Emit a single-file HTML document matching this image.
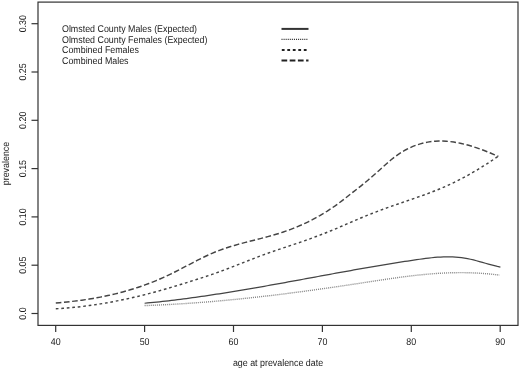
<!DOCTYPE html>
<html><head><meta charset="utf-8"><style>
html,body{margin:0;padding:0;background:#fff;}
body{width:520px;height:369px;overflow:hidden;}
svg{display:block;filter:blur(0.35px);font-family:"Liberation Sans",sans-serif;font-size:9.1px;fill:#222;text-rendering:geometricPrecision;}
</style></head><body>
<svg width="520" height="369" viewBox="0 0 520 369">
<g stroke="#333" stroke-width="1.2" fill="none">
<rect x="38" y="2.1" width="480" height="323.3" />
<line x1="55.7" y1="325.5" x2="55.7" y2="332" /><line x1="144.6" y1="325.5" x2="144.6" y2="332" /><line x1="233.5" y1="325.5" x2="233.5" y2="332" /><line x1="322.4" y1="325.5" x2="322.4" y2="332" /><line x1="411.3" y1="325.5" x2="411.3" y2="332" /><line x1="500.2" y1="325.5" x2="500.2" y2="332" />
<line x1="31.5" y1="313.5" x2="38" y2="313.5" /><line x1="31.5" y1="265.2" x2="38" y2="265.2" /><line x1="31.5" y1="216.9" x2="38" y2="216.9" /><line x1="31.5" y1="168.6" x2="38" y2="168.6" /><line x1="31.5" y1="120.3" x2="38" y2="120.3" /><line x1="31.5" y1="72.0" x2="38" y2="72.0" /><line x1="31.5" y1="23.7" x2="38" y2="23.7" />
</g>
<g>
<text transform="translate(55.70,344.50) scale(0.975,1.08)" text-anchor="middle">40</text><text transform="translate(144.60,344.50) scale(0.975,1.08)" text-anchor="middle">50</text><text transform="translate(233.50,344.50) scale(0.975,1.08)" text-anchor="middle">60</text><text transform="translate(322.40,344.50) scale(0.975,1.08)" text-anchor="middle">70</text><text transform="translate(411.30,344.50) scale(0.975,1.08)" text-anchor="middle">80</text><text transform="translate(500.20,344.50) scale(0.975,1.08)" text-anchor="middle">90</text>
<text transform="translate(25.50,313.50) rotate(-90) scale(0.975,1.08)" text-anchor="middle">0.0</text><text transform="translate(25.50,265.20) rotate(-90) scale(0.975,1.08)" text-anchor="middle">0.05</text><text transform="translate(25.50,216.90) rotate(-90) scale(0.975,1.08)" text-anchor="middle">0.10</text><text transform="translate(25.50,168.60) rotate(-90) scale(0.975,1.08)" text-anchor="middle">0.15</text><text transform="translate(25.50,120.30) rotate(-90) scale(0.975,1.08)" text-anchor="middle">0.20</text><text transform="translate(25.50,72.00) rotate(-90) scale(0.975,1.08)" text-anchor="middle">0.25</text><text transform="translate(25.50,23.70) rotate(-90) scale(0.975,1.08)" text-anchor="middle">0.30</text>
<text transform="translate(278.00,365.50) scale(0.975,1.08)" text-anchor="middle">age at prevalence date</text>
<text transform="translate(9.00,163.50) rotate(-90) scale(0.975,1.08)" text-anchor="middle">prevalence</text>
<text transform="translate(62.00,32.00) scale(0.975,1.08)">Olmsted County Males (Expected)</text>
<text transform="translate(62.00,42.60) scale(0.975,1.08)">Olmsted County Females (Expected)</text>
<text transform="translate(62.00,53.20) scale(0.975,1.08)">Combined Females</text>
<text transform="translate(62.00,63.80) scale(0.975,1.08)">Combined Males</text>
</g>
<g fill="none" stroke="#333">
<line x1="281.5" y1="28.9" x2="308.5" y2="28.9" stroke-width="2"/>
<line x1="281.5" y1="39.4" x2="308" y2="39.4" stroke-width="1.4" stroke-dasharray="1.05,1.02" stroke="#333"/>
<line x1="281.8" y1="50" x2="308.5" y2="50" stroke-width="1.8" stroke-dasharray="2.8,2.7" stroke="#222"/>
<line x1="281.5" y1="60.5" x2="308.5" y2="60.5" stroke-width="1.8" stroke-dasharray="5.7,2.5" stroke="#222"/>
<path d="M144.60,303.25 L147.59,302.97 L150.58,302.68 L153.57,302.38 L156.56,302.08 L159.55,301.76 L162.54,301.44 L165.53,301.10 L168.52,300.76 L171.51,300.41 L174.50,300.05 L177.49,299.68 L180.48,299.31 L183.47,298.92 L186.46,298.53 L189.45,298.13 L192.44,297.73 L195.43,297.31 L198.42,296.90 L201.41,296.47 L204.40,296.04 L207.39,295.60 L210.38,295.15 L213.37,294.70 L216.36,294.24 L219.35,293.78 L222.34,293.31 L225.33,292.84 L228.32,292.36 L231.31,291.87 L234.30,291.39 L237.29,290.89 L240.28,290.40 L243.27,289.89 L246.26,289.39 L249.25,288.88 L252.24,288.36 L255.23,287.85 L258.22,287.33 L261.21,286.80 L264.20,286.28 L267.19,285.75 L270.18,285.22 L273.17,284.68 L276.16,284.15 L279.15,283.61 L282.14,283.07 L285.13,282.53 L288.12,281.98 L291.11,281.44 L294.10,280.89 L297.09,280.34 L300.08,279.79 L303.07,279.25 L306.06,278.70 L309.05,278.15 L312.04,277.60 L315.03,277.05 L318.02,276.50 L321.01,275.95 L323.99,275.40 L326.98,274.85 L329.97,274.31 L332.96,273.76 L335.95,273.22 L338.94,272.68 L341.93,272.14 L344.92,271.60 L347.91,271.06 L350.90,270.52 L353.89,269.99 L356.88,269.46 L359.87,268.94 L362.86,268.41 L365.85,267.89 L368.84,267.37 L371.83,266.86 L374.82,266.35 L377.81,265.84 L380.80,265.34 L383.79,264.84 L386.78,264.35 L389.77,263.86 L392.76,263.37 L395.75,262.89 L398.74,262.42 L401.73,261.95 L404.72,261.48 L407.71,261.02 L410.70,260.57 L413.69,260.12 L416.68,259.68 L419.67,259.25 L422.66,258.84 L425.65,258.44 L428.64,258.08 L431.63,257.75 L434.62,257.46 L437.61,257.21 L440.60,257.02 L443.59,256.88 L446.58,256.81 L449.57,256.81 L452.56,256.88 L455.55,257.04 L458.54,257.28 L461.53,257.62 L464.52,258.06 L467.51,258.60 L470.50,259.24 L473.49,259.95 L476.48,260.73 L479.47,261.54 L482.46,262.39 L485.45,263.24 L488.44,264.09 L491.43,264.91 L494.42,265.69 L497.41,266.41 L500.40,267.06" stroke-width="1.25" stroke="#444"/>
<path d="M144.60,305.57 L147.58,305.47 L150.56,305.36 L153.55,305.24 L156.53,305.11 L159.51,304.98 L162.49,304.84 L165.48,304.69 L168.46,304.54 L171.44,304.38 L174.42,304.21 L177.41,304.03 L180.39,303.85 L183.37,303.66 L186.35,303.47 L189.34,303.27 L192.32,303.06 L195.30,302.84 L198.28,302.62 L201.26,302.40 L204.25,302.16 L207.23,301.92 L210.21,301.68 L213.19,301.43 L216.18,301.17 L219.16,300.91 L222.14,300.64 L225.12,300.36 L228.11,300.08 L231.09,299.80 L234.07,299.51 L237.05,299.21 L240.04,298.91 L243.02,298.60 L246.00,298.29 L248.98,297.97 L251.96,297.65 L254.95,297.32 L257.93,296.99 L260.91,296.66 L263.89,296.31 L266.88,295.97 L269.86,295.62 L272.84,295.26 L275.82,294.90 L278.81,294.54 L281.79,294.17 L284.77,293.80 L287.75,293.42 L290.74,293.04 L293.72,292.66 L296.70,292.27 L299.68,291.88 L302.66,291.48 L305.65,291.08 L308.63,290.68 L311.61,290.27 L314.59,289.86 L317.58,289.45 L320.56,289.03 L323.54,288.61 L326.52,288.18 L329.51,287.76 L332.49,287.33 L335.47,286.90 L338.45,286.46 L341.44,286.02 L344.42,285.58 L347.40,285.14 L350.38,284.69 L353.36,284.24 L356.35,283.79 L359.33,283.33 L362.31,282.88 L365.29,282.42 L368.28,281.96 L371.26,281.50 L374.24,281.05 L377.22,280.59 L380.21,280.14 L383.19,279.69 L386.17,279.25 L389.15,278.82 L392.14,278.39 L395.12,277.97 L398.10,277.56 L401.08,277.15 L404.06,276.76 L407.05,276.38 L410.03,276.02 L413.01,275.66 L415.99,275.33 L418.98,275.00 L421.96,274.70 L424.94,274.41 L427.92,274.14 L430.91,273.89 L433.89,273.66 L436.87,273.45 L439.85,273.26 L442.84,273.10 L445.82,272.96 L448.80,272.85 L451.78,272.76 L454.76,272.70 L457.75,272.66 L460.73,272.65 L463.71,272.66 L466.69,272.71 L469.68,272.78 L472.66,272.88 L475.64,273.01 L478.62,273.16 L481.61,273.35 L484.59,273.56 L487.57,273.81 L490.55,274.08 L493.54,274.39 L496.52,274.72 L499.50,275.09" stroke-width="1.4" stroke-dasharray="1.05,1.0" stroke="#888"/>
<path d="M55.80,308.80 L59.52,308.57 L63.24,308.32 L66.96,308.03 L70.68,307.70 L74.40,307.34 L78.12,306.95 L81.84,306.52 L85.55,306.06 L89.27,305.57 L92.99,305.04 L96.71,304.49 L100.43,303.90 L104.15,303.29 L107.87,302.64 L111.59,301.96 L115.31,301.25 L119.03,300.52 L122.75,299.75 L126.47,298.96 L130.19,298.14 L133.91,297.29 L137.63,296.42 L141.34,295.52 L145.06,294.59 L148.78,293.64 L152.50,292.66 L156.22,291.66 L159.94,290.64 L163.66,289.59 L167.38,288.51 L171.10,287.42 L174.82,286.30 L178.54,285.16 L182.26,284.00 L185.98,282.83 L189.70,281.65 L193.42,280.46 L197.13,279.28 L200.85,278.08 L204.57,276.88 L208.29,275.65 L212.01,274.39 L215.73,273.10 L219.45,271.76 L223.17,270.38 L226.89,268.98 L230.61,267.55 L234.33,266.11 L238.05,264.65 L241.77,263.19 L245.49,261.72 L249.21,260.26 L252.92,258.81 L256.64,257.38 L260.36,255.97 L264.08,254.58 L267.80,253.23 L271.52,251.92 L275.24,250.63 L278.96,249.37 L282.68,248.12 L286.40,246.89 L290.12,245.65 L293.84,244.41 L297.56,243.16 L301.28,241.89 L304.99,240.60 L308.71,239.28 L312.43,237.93 L316.15,236.55 L319.87,235.14 L323.59,233.70 L327.31,232.22 L331.03,230.72 L334.75,229.18 L338.47,227.61 L342.19,226.01 L345.91,224.39 L349.63,222.77 L353.35,221.16 L357.07,219.57 L360.78,218.01 L364.50,216.48 L368.22,214.97 L371.94,213.50 L375.66,212.06 L379.38,210.65 L383.10,209.26 L386.82,207.90 L390.54,206.56 L394.26,205.25 L397.98,203.96 L401.70,202.69 L405.42,201.42 L409.14,200.15 L412.86,198.87 L416.57,197.58 L420.29,196.28 L424.01,194.95 L427.73,193.58 L431.45,192.18 L435.17,190.73 L438.89,189.23 L442.61,187.67 L446.33,186.05 L450.05,184.36 L453.77,182.59 L457.49,180.75 L461.21,178.84 L464.93,176.86 L468.65,174.81 L472.36,172.70 L476.08,170.52 L479.80,168.28 L483.52,165.97 L487.24,163.61 L490.96,161.18 L494.68,158.70 L498.40,156.17" stroke-width="1.45" stroke-dasharray="2.7,2.8" stroke="#444"/>
<path d="M55.80,302.99 L59.52,302.68 L63.24,302.34 L66.96,301.97 L70.68,301.57 L74.40,301.14 L78.12,300.68 L81.84,300.18 L85.55,299.64 L89.27,299.06 L92.99,298.45 L96.71,297.79 L100.43,297.10 L104.15,296.36 L107.87,295.57 L111.59,294.73 L115.31,293.85 L119.03,292.92 L122.75,291.94 L126.47,290.90 L130.19,289.81 L133.91,288.67 L137.63,287.46 L141.34,286.20 L145.06,284.88 L148.78,283.50 L152.50,282.06 L156.22,280.55 L159.94,278.97 L163.66,277.33 L167.38,275.62 L171.10,273.84 L174.82,271.99 L178.54,270.10 L182.26,268.17 L185.98,266.22 L189.70,264.27 L193.42,262.33 L197.13,260.41 L200.85,258.54 L204.57,256.73 L208.29,254.99 L212.01,253.33 L215.73,251.79 L219.45,250.34 L223.17,249.00 L226.89,247.74 L230.61,246.56 L234.33,245.45 L238.05,244.39 L241.77,243.37 L245.49,242.39 L249.21,241.44 L252.92,240.50 L256.64,239.56 L260.36,238.61 L264.08,237.65 L267.80,236.66 L271.52,235.63 L275.24,234.55 L278.96,233.41 L282.68,232.21 L286.40,230.93 L290.12,229.58 L293.84,228.14 L297.56,226.62 L301.28,225.02 L304.99,223.32 L308.71,221.53 L312.43,219.65 L316.15,217.66 L319.87,215.57 L323.59,213.37 L327.31,211.06 L331.03,208.63 L334.75,206.09 L338.47,203.42 L342.19,200.63 L345.91,197.71 L349.63,194.76 L353.35,191.89 L357.07,189.04 L360.78,186.11 L364.50,183.09 L368.22,179.98 L371.94,176.79 L375.66,173.53 L379.38,170.22 L383.10,166.85 L386.82,163.50 L390.54,160.25 L394.26,157.24 L397.98,154.54 L401.70,152.13 L405.42,149.98 L409.14,148.09 L412.86,146.44 L416.57,145.03 L420.29,143.85 L424.01,142.89 L427.73,142.14 L431.45,141.59 L435.17,141.23 L438.89,141.06 L442.61,141.07 L446.33,141.24 L450.05,141.57 L453.77,142.06 L457.49,142.68 L461.21,143.44 L464.93,144.32 L468.65,145.32 L472.36,146.43 L476.08,147.63 L479.80,148.92 L483.52,150.30 L487.24,151.74 L490.96,153.26 L494.68,154.82 L498.40,156.43" stroke-width="1.45" stroke-dasharray="5.6,2.6" stroke="#444"/>
</g>
</svg>
</body></html>
